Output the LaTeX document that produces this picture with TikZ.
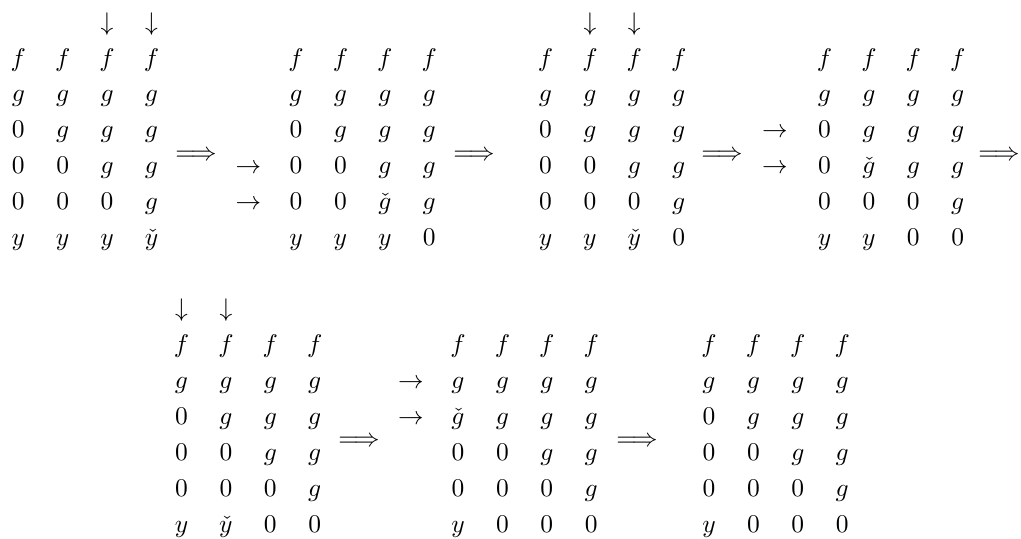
\documentclass[tikz,border=0pt]{standalone}
\usepackage{amsmath}
\tikzset{
  ent/.style={anchor=base, inner sep=0pt, outer sep=0pt},
  imp/.style={anchor=center, inner sep=0pt, outer sep=0pt},
}
\newcommand\DX{44.4}
\newcommand\DY{35.9}
% #1 matrix name, #2 row index, #3 x of first column, #4 baseline y, #5..#8 entries
\newcommand\mrow[8]{%
  \node[ent] (#1-#2-1) at (#3,#4) {$#5$};
  \node[ent] (#1-#2-2) at ({#3+\DX},#4) {$#6$};
  \node[ent] (#1-#2-3) at ({#3+2*\DX},#4) {$#7$};
  \node[ent] (#1-#2-4) at ({#3+3*\DX},#4) {$#8$};
}
\begin{document}
\begin{tikzpicture}[x=0.392pt,y=-0.392pt]
\useasboundingbox (0,0) rectangle (1021,538);
% ---------- top row ----------
\def\ya{66}
% matrix A
\def\xa{18.3}
\node[ent] (A-da3) at ({\xa+2*\DX},{\ya-\DY}) {$\downarrow$};
\node[ent] (A-da4) at ({\xa+3*\DX},{\ya-\DY}) {$\downarrow$};
\mrow{A}{1}{\xa}{\ya}{f}{f}{f}{f}
\mrow{A}{2}{\xa}{\ya+\DY}{g}{g}{g}{g}
\mrow{A}{3}{\xa}{\ya+2*\DY}{0}{g}{g}{g}
\mrow{A}{4}{\xa}{\ya+3*\DY}{0}{0}{g}{g}
\mrow{A}{5}{\xa}{\ya+4*\DY}{0}{0}{0}{g}
\mrow{A}{6}{\xa}{\ya+5*\DY}{y}{y}{y}{\check{y}}
\node[imp] (imp1) at (196,155.5) {$\Longrightarrow$};
% matrix B
\def\xb{296}
\node[ent] (B-ra4) at (248.5,{\ya+3*\DY}) {$\rightarrow$};
\node[ent] (B-ra5) at (248.5,{\ya+4*\DY}) {$\rightarrow$};
\mrow{B}{1}{\xb}{\ya}{f}{f}{f}{f}
\mrow{B}{2}{\xb}{\ya+\DY}{g}{g}{g}{g}
\mrow{B}{3}{\xb}{\ya+2*\DY}{0}{g}{g}{g}
\mrow{B}{4}{\xb}{\ya+3*\DY}{0}{0}{g}{g}
\mrow{B}{5}{\xb}{\ya+4*\DY}{0}{0}{\check{g}}{g}
\mrow{B}{6}{\xb}{\ya+5*\DY}{y}{y}{y}{0}
\node[imp] (imp2) at (474,155.5) {$\Longrightarrow$};
% matrix C
\def\xc{545.5}
\node[ent] (C-da2) at ({\xc+\DX},{\ya-\DY}) {$\downarrow$};
\node[ent] (C-da3) at ({\xc+2*\DX},{\ya-\DY}) {$\downarrow$};
\mrow{C}{1}{\xc}{\ya}{f}{f}{f}{f}
\mrow{C}{2}{\xc}{\ya+\DY}{g}{g}{g}{g}
\mrow{C}{3}{\xc}{\ya+2*\DY}{0}{g}{g}{g}
\mrow{C}{4}{\xc}{\ya+3*\DY}{0}{0}{g}{g}
\mrow{C}{5}{\xc}{\ya+4*\DY}{0}{0}{0}{g}
\mrow{C}{6}{\xc}{\ya+5*\DY}{y}{y}{\check{y}}{0}
\node[imp] (imp3) at (722,155.5) {$\Longrightarrow$};
% matrix D
\def\xd{824.5}
\node[ent] (D-ra3) at (775,{\ya+2*\DY}) {$\rightarrow$};
\node[ent] (D-ra4) at (775,{\ya+3*\DY}) {$\rightarrow$};
\mrow{D}{1}{\xd}{\ya}{f}{f}{f}{f}
\mrow{D}{2}{\xd}{\ya+\DY}{g}{g}{g}{g}
\mrow{D}{3}{\xd}{\ya+2*\DY}{0}{g}{g}{g}
\mrow{D}{4}{\xd}{\ya+3*\DY}{0}{\check{g}}{g}{g}
\mrow{D}{5}{\xd}{\ya+4*\DY}{0}{0}{0}{g}
\mrow{D}{6}{\xd}{\ya+5*\DY}{y}{y}{0}{0}
\node[imp] (imp4) at (999,155.5) {$\Longrightarrow$};
% ---------- bottom row ----------
\def\yb{352.5}
% matrix E
\def\xe{181.5}
\node[ent] (E-da1) at (\xe,{\yb-\DY}) {$\downarrow$};
\node[ent] (E-da2) at ({\xe+\DX},{\yb-\DY}) {$\downarrow$};
\mrow{E}{1}{\xe}{\yb}{f}{f}{f}{f}
\mrow{E}{2}{\xe}{\yb+\DY}{g}{g}{g}{g}
\mrow{E}{3}{\xe}{\yb+2*\DY}{0}{g}{g}{g}
\mrow{E}{4}{\xe}{\yb+3*\DY}{0}{0}{g}{g}
\mrow{E}{5}{\xe}{\yb+4*\DY}{0}{0}{0}{g}
\mrow{E}{6}{\xe}{\yb+5*\DY}{y}{\check{y}}{0}{0}
\node[imp] (imp5) at (359,442) {$\Longrightarrow$};
% matrix F
\def\xf{458}
\node[ent] (F-ra2) at (411,{\yb+\DY}) {$\rightarrow$};
\node[ent] (F-ra3) at (411,{\yb+2*\DY}) {$\rightarrow$};
\mrow{F}{1}{\xf}{\yb}{f}{f}{f}{f}
\mrow{F}{2}{\xf}{\yb+\DY}{g}{g}{g}{g}
\mrow{F}{3}{\xf}{\yb+2*\DY}{\check{g}}{g}{g}{g}
\mrow{F}{4}{\xf}{\yb+3*\DY}{0}{0}{g}{g}
\mrow{F}{5}{\xf}{\yb+4*\DY}{0}{0}{0}{g}
\mrow{F}{6}{\xf}{\yb+5*\DY}{y}{0}{0}{0}
\node[imp] (imp6) at (637,442) {$\Longrightarrow$};
% matrix G
\def\xg{709}
\mrow{G}{1}{\xg}{\yb}{f}{f}{f}{f}
\mrow{G}{2}{\xg}{\yb+\DY}{g}{g}{g}{g}
\mrow{G}{3}{\xg}{\yb+2*\DY}{0}{g}{g}{g}
\mrow{G}{4}{\xg}{\yb+3*\DY}{0}{0}{g}{g}
\mrow{G}{5}{\xg}{\yb+4*\DY}{0}{0}{0}{g}
\mrow{G}{6}{\xg}{\yb+5*\DY}{y}{0}{0}{0}
\end{tikzpicture}
\end{document}
